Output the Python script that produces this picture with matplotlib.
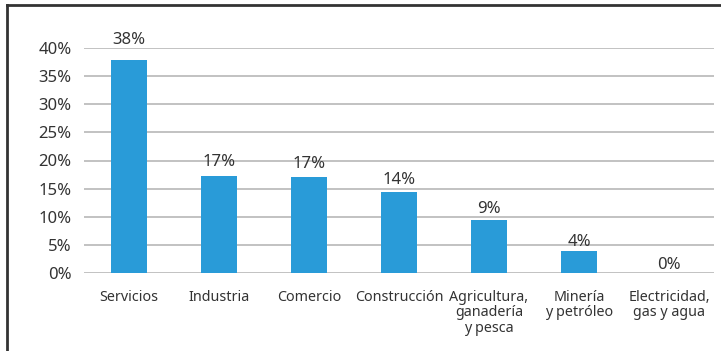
import matplotlib
matplotlib.use("Agg")
import matplotlib.pyplot as plt
from matplotlib.lines import Line2D

categories = ["Servicios", "Industria", "Comercio", "Construcción",
              "Agricultura,\nganadería\ny pesca", "Minería\ny petróleo",
              "Electricidad,\ngas y agua"]
values = [37.9, 17.3, 17.0, 14.4, 9.4, 3.9, 0.0]
labels = ["38%", "17%", "17%", "14%", "9%", "4%", "0%"]
yticks = [0, 5, 10, 15, 20, 25, 30, 35, 40]

plt.rcParams['font.family'] = ['Noto Sans', 'DejaVu Sans']
text_color = "#333333"

fig = plt.figure(figsize=(7.21, 3.51), dpi=100)
ax = fig.add_axes([84/721, 1-273/351, 630/721, 225/351])

x = list(range(len(categories)))
ax.bar(x, values, width=0.4, color="#299BD8", zorder=3)
for xi, v, lab in zip(x, values, labels):
    gap_px = 8 + 0.3 * v
    ax.annotate(lab, (xi, v), xytext=(0, gap_px * 0.72), textcoords="offset points",
                ha="center", va="center", fontsize=12, color=text_color)

ax.set_xlim(-0.5, len(categories) - 0.5)
ax.set_ylim(0, 40)
ax.set_yticks(yticks)
ax.set_yticklabels([f"{t}%" for t in yticks], fontsize=12, color=text_color)
ax.set_xticks(x)
ax.set_xticklabels(categories, fontsize=10.3, color=text_color, linespacing=1.05, va="top")
ax.tick_params(axis="both", length=0)
ax.tick_params(axis="x", pad=12)
ax.tick_params(axis="y", pad=9)
ax.yaxis.grid(True, color="#BDBDBD", linewidth=1.3, zorder=0)
for s in ax.spines.values():
    s.set_visible(False)

# Figure frame (left and top visible)
fig.add_artist(Line2D([7/721, 7/721], [0, 1-5/351], transform=fig.transFigure,
                      color="#333333", linewidth=2))
fig.add_artist(Line2D([7/721, 1], [1-5/351, 1-5/351], transform=fig.transFigure,
                      color="#333333", linewidth=2))

fig.savefig("out.png", dpi=100)
